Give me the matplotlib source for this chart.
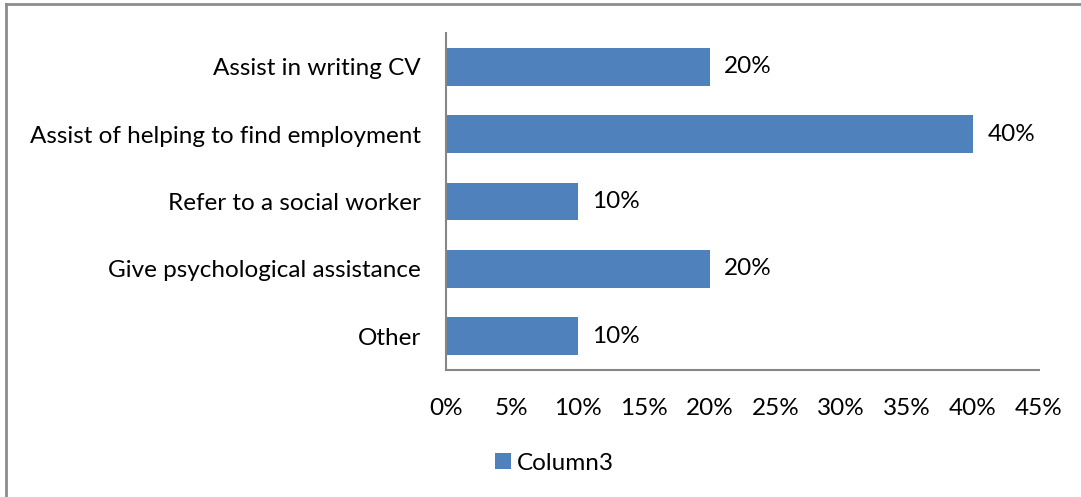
import matplotlib.pyplot as plt
from matplotlib.lines import Line2D
from matplotlib.ticker import FuncFormatter

# -----------------------------
# Data
# -----------------------------
categories = [
    "Assist in writing CV",
    "Assist of helping to find employment",
    "Refer to a social worker",
    "Give psychological assistance",
    "Other",
]
values = [20, 40, 10, 20, 10]
series_name = "Column3"
x_ticks = [0, 5, 10, 15, 20, 25, 30, 35, 40, 45]

BAR_COLOR = "#4F81BD"
AXIS_COLOR = "#868686"
FONT = ["Lato", "DejaVu Sans"]
FS = 17.5

plt.rcParams["font.family"] = FONT

fig = plt.figure(figsize=(10.81, 4.97), dpi=100)
ax = fig.add_axes([0.4126, 0.2555, 0.5485, 0.6781])

# reversed so the first category is drawn at the top
y_pos = list(range(len(categories)))[::-1]
bars = ax.barh(y_pos, values, height=0.56, color=BAR_COLOR, label=series_name)

for bar, v in zip(bars, values):
    ax.text(v + 1.1, bar.get_y() + bar.get_height() / 2, f"{v}%",
            va="center", ha="left", fontsize=FS, color="black")

ax.set_xlim(0, 45)
ax.set_ylim(-0.5, len(categories) - 0.5)
ax.set_xticks(x_ticks)
ax.xaxis.set_major_formatter(FuncFormatter(lambda v, _: f"{v:.0f}%"))
ax.set_yticks(y_pos)
ax.set_yticklabels(categories)
ax.tick_params(axis="both", length=0, labelsize=FS, colors="black")
ax.tick_params(axis="x", pad=20)
ax.tick_params(axis="y", pad=18)

for side in ["top", "right"]:
    ax.spines[side].set_visible(False)
for side in ["left", "bottom"]:
    ax.spines[side].set_color(AXIS_COLOR)
    ax.spines[side].set_linewidth(1.5)

fig.legend(handles=[bars], labels=[series_name], loc="center",
           bbox_to_anchor=(0.513, 0.068), frameon=False, fontsize=FS,
           handlelength=0.65, handleheight=0.65, handletextpad=0.25)

# outer chart border (top and left edges)
fig.add_artist(Line2D([0.0055, 1.0], [0.992, 0.992], color="#8C8C8C", lw=2,
                      transform=fig.transFigure))
fig.add_artist(Line2D([0.0055, 0.0055], [0.0, 0.992], color="#8C8C8C", lw=2,
                      transform=fig.transFigure))

fig.savefig("out.png", dpi=100, facecolor="white")
